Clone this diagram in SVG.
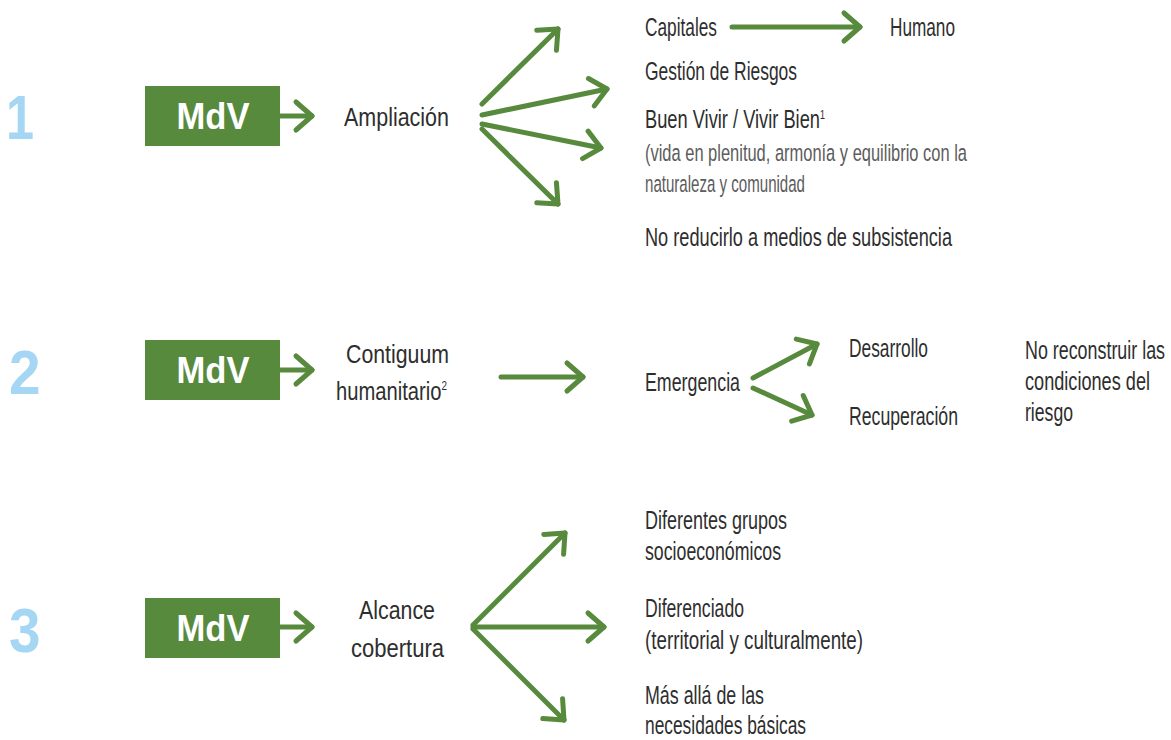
<svg xmlns="http://www.w3.org/2000/svg" width="1171" height="740" viewBox="0 0 1171 740">
<style>
.num{font-family:"Liberation Sans",Arial,sans-serif;font-weight:bold;font-size:63px;fill:#a5d6f4}
.box{fill:#588a3e}
.mdv{font-family:"Liberation Sans",Arial,sans-serif;font-weight:bold;font-size:36px;fill:#ffffff}
.t{font-family:"Liberation Sans Narrow","Liberation Sans",Arial,sans-serif;font-size:26.5px;fill:#2e2e2e}
.tl{font-family:"Liberation Sans Narrow","Liberation Sans",Arial,sans-serif;font-size:24.5px;fill:#5c5c5c}
.sup{font-size:13px}
.ln{fill:none;stroke:#588a3e;stroke-width:5;stroke-linecap:round;marker-end:url(#ah)}
</style>
<defs>
<marker id="ah" markerUnits="userSpaceOnUse" markerWidth="40" markerHeight="40" viewBox="-20 -20 40 40" refX="0" refY="0" orient="auto" overflow="visible">
<path d="M-16,-14 L0,0 L-16,14" fill="none" stroke="#588a3e" stroke-width="5" stroke-linecap="round" stroke-linejoin="round"/>
</marker>
</defs>
<rect width="1171" height="740" fill="#ffffff"/>

<g id="row1">
<text class="num" transform="translate(6,139) scale(0.8,1)" x="0" y="0">1</text>
<g id="mdv1"><rect class="box" x="145" y="86" width="135" height="60"/><text class="mdv" x="213" y="129" text-anchor="middle" textLength="73" lengthAdjust="spacingAndGlyphs">MdV</text></g>
<g id="ampliacion"><text class="t" x="344" y="126" textLength="105" lengthAdjust="spacingAndGlyphs">Ampliación</text></g>
<g id="capitales"><text class="t" x="645" y="36" textLength="72" lengthAdjust="spacingAndGlyphs">Capitales</text></g>
<g id="humano"><text class="t" x="890" y="36" textLength="65" lengthAdjust="spacingAndGlyphs">Humano</text></g>
<g id="gestion"><text class="t" x="645" y="80" textLength="152" lengthAdjust="spacingAndGlyphs">Gestión de Riesgos</text></g>
<g id="buenvivir">
<text class="t" x="645" y="128" textLength="180" lengthAdjust="spacingAndGlyphs">Buen Vivir / Vivir Bien<tspan class="sup" dy="-9">1</tspan></text>
<text class="tl" x="645" y="161" textLength="322" lengthAdjust="spacingAndGlyphs">(vida en plenitud, armonía y equilibrio con la</text>
<text class="tl" x="645" y="192" textLength="160" lengthAdjust="spacingAndGlyphs">naturaleza y comunidad</text>
</g>
<g id="noreducirlo"><text class="t" x="645" y="246" textLength="307" lengthAdjust="spacingAndGlyphs">No reducirlo a medios de subsistencia</text></g>
</g>

<g id="row2">
<text class="num" transform="translate(9,394) scale(0.9,1)" x="0" y="0">2</text>
<g id="mdv2"><rect class="box" x="145" y="340" width="135" height="60"/><text class="mdv" x="213" y="383" text-anchor="middle" textLength="73" lengthAdjust="spacingAndGlyphs">MdV</text></g>
<g id="contiguum">
<text class="t" x="346" y="363" textLength="103" lengthAdjust="spacingAndGlyphs">Contiguum</text>
<text class="t" x="336" y="400" textLength="111" lengthAdjust="spacingAndGlyphs">humanitario<tspan class="sup" dy="-10">2</tspan></text>
</g>
<g id="emergencia"><text class="t" x="645" y="391" textLength="95" lengthAdjust="spacingAndGlyphs">Emergencia</text></g>
<g id="desarrollo"><text class="t" x="849" y="357" textLength="79" lengthAdjust="spacingAndGlyphs">Desarrollo</text></g>
<g id="recuperacion"><text class="t" x="849" y="425" textLength="109" lengthAdjust="spacingAndGlyphs">Recuperación</text></g>
<g id="noreconstruir">
<text class="t" x="1025" y="359" textLength="140" lengthAdjust="spacingAndGlyphs">No reconstruir las</text>
<text class="t" x="1025" y="390" textLength="125" lengthAdjust="spacingAndGlyphs">condiciones del</text>
<text class="t" x="1025" y="421" textLength="48" lengthAdjust="spacingAndGlyphs">riesgo</text>
</g>
</g>

<g id="row3">
<text class="num" transform="translate(9,652) scale(0.9,1)" x="0" y="0">3</text>
<g id="mdv3"><rect class="box" x="145" y="598" width="135" height="60"/><text class="mdv" x="213" y="641" text-anchor="middle" textLength="73" lengthAdjust="spacingAndGlyphs">MdV</text></g>
<g id="alcance">
<text class="t" x="359" y="619" textLength="76" lengthAdjust="spacingAndGlyphs">Alcance</text>
<text class="t" x="351" y="657" textLength="93" lengthAdjust="spacingAndGlyphs">cobertura</text>
</g>
<g id="diferentes">
<text class="t" x="645" y="529" textLength="142" lengthAdjust="spacingAndGlyphs">Diferentes grupos</text>
<text class="t" x="645" y="560" textLength="136" lengthAdjust="spacingAndGlyphs">socioeconómicos</text>
</g>
<g id="diferenciado">
<text class="t" x="645" y="617" textLength="99" lengthAdjust="spacingAndGlyphs">Diferenciado</text>
<text class="t" x="645" y="649" textLength="218" lengthAdjust="spacingAndGlyphs">(territorial y culturalmente)</text>
</g>
<g id="masalla">
<text class="t" x="645" y="704" textLength="119" lengthAdjust="spacingAndGlyphs">Más allá de las</text>
<text class="t" x="645" y="734" textLength="161" lengthAdjust="spacingAndGlyphs">necesidades básicas</text>
</g>
</g>

<g id="connectors">
<line class="ln" x1="280" y1="116" x2="312" y2="116"/>
<line class="ln" x1="482" y1="104" x2="558" y2="29"/>
<line class="ln" x1="482" y1="115" x2="607" y2="89"/>
<line class="ln" x1="482" y1="124" x2="601" y2="148"/>
<line class="ln" x1="482" y1="129" x2="558" y2="204"/>
<line class="ln" x1="732" y1="27" x2="860" y2="27"/>
<line class="ln" x1="280" y1="370" x2="312" y2="370"/>
<line class="ln" x1="501" y1="377" x2="583" y2="377"/>
<line class="ln" x1="753" y1="378" x2="817" y2="344"/>
<line class="ln" x1="753" y1="388" x2="812" y2="415"/>
<line class="ln" x1="280" y1="627" x2="312" y2="627"/>
<line class="ln" x1="473" y1="625" x2="565" y2="533"/>
<line class="ln" x1="473" y1="627" x2="604" y2="627"/>
<line class="ln" x1="473" y1="629" x2="564" y2="720"/>
</g>
</svg>
